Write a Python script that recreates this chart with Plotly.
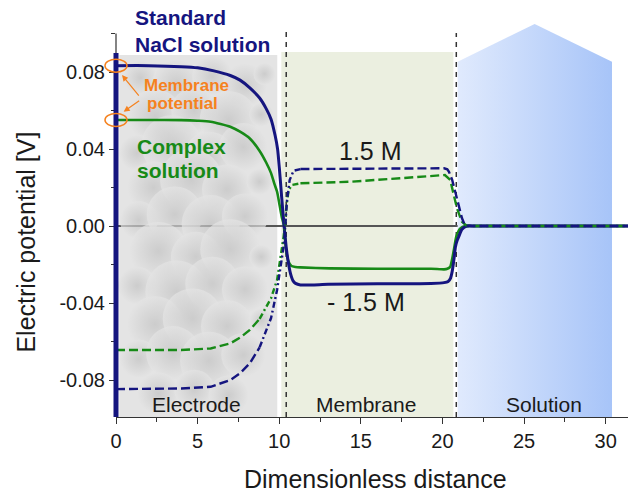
import plotly.graph_objects as go

# ---------------- data ----------------
nacl_x = [0, 2, 4, 5, 6, 7, 7.6, 8.2, 8.8, 9.2, 9.5, 9.75, 9.9, 10.0, 10.15, 10.3,
          10.45, 10.6, 10.7, 10.85, 11.0, 11.3, 13, 16, 19.3, 20.1, 20.35, 20.5,
          20.6, 20.7, 20.8, 20.9, 21.0, 21.2, 21.5, 22, 31.4]
nacl_y = [0.0833, 0.0833, 0.0828, 0.0822, 0.0806, 0.0782, 0.0758, 0.0718, 0.0665,
          0.0610, 0.0555, 0.0470, 0.0400, 0.0310, 0.0150, 0.0,
          -0.0125, -0.0210, -0.0250, -0.0285, -0.0298, -0.0306, -0.0303, -0.0300,
          -0.0298, -0.0294, -0.0288, -0.0270, -0.0235, -0.0177, -0.0107, -0.0075,
          -0.0055, -0.0017, 0.0, 0.0, 0.0]

complex_x = [0, 2, 4, 5, 5.8, 7.0, 7.6, 8.2, 8.8, 9.2, 9.5, 9.7, 9.87, 10.0, 10.15,
             10.3, 10.4, 10.55, 10.75, 11.0, 11.3, 13.1, 16, 19.3, 20.1, 20.3, 20.48,
             20.6, 20.7, 20.85, 21.1, 21.4, 22, 31.4]
complex_y = [0.0551, 0.0551, 0.0550, 0.0547, 0.0542, 0.0516, 0.0490, 0.0455, 0.0390,
             0.0330, 0.0275, 0.0220, 0.0178, 0.0120, 0.0050,
             0.0, -0.0110, -0.0180, -0.0208, -0.0213, -0.0215, -0.0220, -0.0222,
             -0.0222, -0.0225, -0.0222, -0.0211, -0.0170, -0.0125, -0.0055, -0.0012,
             0.0, 0.0, 0.0]

nacl15_x = [0, 2, 4, 5.8, 7.0, 7.6, 8.2, 8.8, 9.5, 9.87, 10.07, 10.27, 10.37, 10.48,
            10.64, 10.88, 11.3, 13, 16, 19.3, 20.1, 20.3, 20.4, 20.6, 20.8, 21.0,
            21.2, 21.4, 22, 31.4]
nacl15_y = [-0.0847, -0.0847, -0.0844, -0.0835, -0.0800, -0.0765, -0.0713, -0.0630,
            -0.0478, -0.0332, -0.0229, -0.0107, 0.0, 0.0135,
            0.0239, 0.0287, 0.0296, 0.0297, 0.0298, 0.0300, 0.0300, 0.0295, 0.0282,
            0.0239, 0.0170, 0.0100, 0.0040, 0.0, 0.0, 0.0]

complex15_x = [0, 2, 4, 5.8, 7.0, 7.6, 8.2, 8.8, 9.5, 9.87, 10.07, 10.27, 10.35,
               10.45, 10.58, 10.78, 11.3, 14.35, 17.4, 19.4, 20.15, 20.48, 20.69,
               20.89, 21.2, 21.5, 22, 31.4]
complex15_y = [-0.0644, -0.0644, -0.0644, -0.0636, -0.0610, -0.0580, -0.0540, -0.0482,
               -0.0375, -0.0280, -0.0177, -0.0055, 0.0,
               0.0110, 0.0187, 0.0213, 0.0222, 0.0230, 0.0248, 0.0261, 0.0265, 0.0239,
               0.0170, 0.0092, 0.0022, 0.0, 0.0, 0.0]

x_tick_vals = [0, 5, 10, 15, 20, 25, 30]
y_tick_vals = [-0.08, -0.04, 0.0, 0.04, 0.08]
y_tick_text = ["-0.08", "-0.04", "0.00", "0.04", "0.08"]

# region boundaries (dimensionless distance)
electrode_region = [0.2, 9.88]
membrane_region = [10.13, 20.67]
solution_region = [20.93, 25.65, 30.39]
interface_lines = [10.43, 20.85]

X_RANGE = [0, 31.37]
Y_RANGE = [-0.0992, 0.1065]

NAVY = "#15157f"
GREEN = "#178a17"
ORANGE = "#f5821f"
FONT = "Liberation Sans, Arial, sans-serif"
ELECTRODE_BG = "#e4e4e4"


def to_paper_x(v):
    return (v - X_RANGE[0]) / (X_RANGE[1] - X_RANGE[0])


def to_paper_y(v):
    return (v - Y_RANGE[0]) / (Y_RANGE[1] - Y_RANGE[0])


def segment(xs, ys, lo, hi):
    pts = [(a, b) for a, b in zip(xs, ys) if lo <= a <= hi]
    return [p[0] for p in pts], [p[1] for p in pts]


fig = go.Figure()

# soft cloudy texture of the electrode (purely decorative)
cloud = [
    (1.5, 0.077, 34), (3.7, 0.074, 48), (5.9, 0.078, 40), (7.9, 0.073, 44), (9.1, 0.079, 22),
    (2.4, 0.057, 54), (4.8, 0.060, 46), (6.9, 0.055, 58), (8.9, 0.058, 24),
    (1.3, 0.038, 36), (3.4, 0.042, 60), (5.7, 0.036, 50), (7.8, 0.041, 48),
    (2.3, 0.020, 52), (4.6, 0.024, 62), (6.8, 0.019, 50), (8.8, 0.023, 26),
    (1.4, 0.003, 38), (3.6, 0.006, 56), (5.8, 0.001, 58), (7.9, 0.005, 46),
    (2.6, -0.013, 58), (4.9, -0.016, 50), (7.0, -0.012, 60), (8.9, -0.016, 24),
    (1.3, -0.031, 38), (3.7, -0.034, 62), (5.9, -0.030, 54), (7.9, -0.033, 46),
    (2.4, -0.051, 56), (4.7, -0.048, 60), (6.8, -0.052, 52), (8.9, -0.049, 24),
    (1.4, -0.069, 38), (3.5, -0.066, 54), (5.7, -0.070, 58), (7.8, -0.067, 44),
    (2.6, -0.087, 42), (4.8, -0.085, 40), (6.9, -0.088, 40),
]
fig.add_trace(go.Scatter(
    x=[c[0] for c in cloud], y=[c[1] for c in cloud], mode="markers",
    hoverinfo="skip", showlegend=False,
    marker=dict(size=[c[2] for c in cloud], color=ELECTRODE_BG,
                line=dict(width=0),
                gradient=dict(type="radial", color="#c2c2c2"))))

# solution region (gradient pentagon)
sx0, sxm, sx1 = solution_region
fig.add_trace(go.Scatter(
    x=[sx0, sx0, sxm, sx1, sx1, sx0],
    y=[Y_RANGE[0], 0.0853, 0.105, 0.0853, Y_RANGE[0], Y_RANGE[0]],
    fill="toself", mode="lines", line=dict(width=0),
    fillgradient=dict(type="horizontal",
                      colorscale=[[0, "#e0eafd"], [1, "#a7c4f8"]]),
    hoverinfo="skip", showlegend=False))

# solid curves
fig.add_trace(go.Scatter(x=complex_x, y=complex_y, mode="lines",
                         line=dict(color=GREEN, width=2.6, shape="spline", smoothing=0.6),
                         hoverinfo="skip", showlegend=False))
fig.add_trace(go.Scatter(x=nacl_x, y=nacl_y, mode="lines",
                         line=dict(color=NAVY, width=3, shape="spline", smoothing=0.6),
                         hoverinfo="skip", showlegend=False))

# dashed curves (dash in flat parts, dash-dot in steep part)
for xs, ys, col in [(complex15_x, complex15_y, GREEN), (nacl15_x, nacl15_y, NAVY)]:
    for lo, hi, dash in [(0, 8.8, "9px,4px"), (8.8, 11.3, "6px,3px,2px,3px"),
                         (11.3, 40, "9px,4px")]:
        sx, sy = segment(xs, ys, lo, hi)
        fig.add_trace(go.Scatter(x=sx, y=sy, mode="lines",
                                 line=dict(color=col, width=2.4, dash=dash),
                                 hoverinfo="skip", showlegend=False))

shapes = [
    # electrode region
    dict(type="rect", xref="x", yref="y", x0=electrode_region[0], x1=electrode_region[1],
         y0=Y_RANGE[0], y1=0.0888, fillcolor=ELECTRODE_BG, line=dict(width=0), layer="below"),
    # membrane region
    dict(type="rect", xref="x", yref="y", x0=membrane_region[0], x1=membrane_region[1],
         y0=Y_RANGE[0], y1=0.0904, fillcolor="#ebefe0", line=dict(width=0), layer="below"),
    # interface dashed lines
    dict(type="line", xref="x", yref="y", x0=interface_lines[0], x1=interface_lines[0],
         y0=Y_RANGE[0], y1=0.1034, line=dict(color="#333333", width=1.5, dash="5px,5px"),
         layer="below"),
    dict(type="line", xref="x", yref="y", x0=interface_lines[1], x1=interface_lines[1],
         y0=Y_RANGE[0], y1=0.1003, line=dict(color="#333333", width=1.5, dash="5px,5px"),
         layer="below"),
    # y axis line
    dict(type="line", xref="paper", yref="paper", x0=0, x1=0, y0=0, y1=to_paper_y(0.1),
         line=dict(color="#333333", width=1.2), layer="above"),
    # electrode boundary (thick navy)
    dict(type="line", xref="paper", yref="paper", x0=0, x1=0, y0=0, y1=to_paper_y(0.0899),
         line=dict(color=NAVY, width=5), layer="above"),
]
# orange ellipses highlighting the membrane potential
for v in [nacl_y[0], complex_y[0]]:
    cy = to_paper_y(v)
    shapes.append(dict(type="circle", xref="paper", yref="paper",
                       x0=-0.0215, x1=0.0215, y0=cy - 0.0164, y1=cy + 0.0164,
                       line=dict(color=ORANGE, width=1.5), layer="above"))

annotations = [
    dict(x=to_paper_x(1.04), y=to_paper_y(0.1083), xref="paper", yref="paper",
         text="<b>Standard</b>", font=dict(size=21, color=NAVY)),
    dict(x=1.04, y=0.0945, text="<b>NaCl solution</b>", font=dict(size=21, color=NAVY)),
    dict(x=1.57, y=0.0732, text="<b>Membrane</b>", font=dict(size=17, color=ORANGE)),
    dict(x=1.75, y=0.0634, text="<b>potential</b>", font=dict(size=17, color=ORANGE)),
    dict(x=1.18, y=0.0413, text="<b>Complex</b>", font=dict(size=21, color=GREEN)),
    dict(x=1.18, y=0.0286, text="<b>solution</b>", font=dict(size=21, color=GREEN)),
]
for a in annotations:
    a.setdefault("xref", "x")
    a.setdefault("yref", "y")
    a.update(xanchor="left", yanchor="middle", showarrow=False)
    a["font"]["family"] = FONT

centered = [
    dict(x=15.6, y=0.039, text="1.5 M", size=25),
    dict(x=15.33, y=-0.0396, text="- 1.5 M", size=25),
    dict(x=4.96, y=-0.0925, text="Electrode", size=21),
    dict(x=15.3, y=-0.0925, text="Membrane", size=21),
    dict(x=26.2, y=-0.0925, text="Solution", size=21),
]
for c in centered:
    annotations.append(dict(x=c["x"], y=c["y"], text=c["text"], xref="x", yref="y",
                            xanchor="center", yanchor="middle", showarrow=False,
                            font=dict(size=c["size"], color="#1a1a1a", family=FONT)))

# arrows
for hx, hy, ax, ay in [(0.37, 0.0784, 18, 22), (0.47, 0.0594, 17, -12)]:
    annotations.append(dict(x=hx, y=hy, xref="x", yref="y", text="", showarrow=True,
                            ax=ax, ay=ay, arrowhead=2, arrowsize=1, arrowwidth=1.2,
                            arrowcolor=ORANGE, standoff=0))

# axis titles
annotations.append(dict(x=0.506, y=-0.1566, xref="paper", yref="paper",
                        text="Dimensionless distance", showarrow=False,
                        xanchor="center", yanchor="middle",
                        font=dict(size=25, color="#1a1a1a", family=FONT)))
annotations.append(dict(x=-0.1758, y=0.443, xref="paper", yref="paper",
                        text="Electric potential [V]", showarrow=False, textangle=-90,
                        xanchor="center", yanchor="middle",
                        font=dict(size=25, color="#1a1a1a", family=FONT)))

fig.update_layout(
    width=628, height=496,
    margin=dict(l=116, r=0, t=21, b=79),
    paper_bgcolor="white", plot_bgcolor="white",
    shapes=shapes, annotations=annotations,
    showlegend=False,
    font=dict(family=FONT, color="#1a1a1a"),
    xaxis=dict(range=X_RANGE, showgrid=False, zeroline=False, showline=True,
               linecolor="#333333", linewidth=1.2, ticks="outside", ticklen=6,
               tickwidth=1.2, tickcolor="#333333", tickvals=x_tick_vals,
               tickfont=dict(size=20, color="#1a1a1a"),
               minor=dict(ticks="outside", ticklen=4, tickwidth=1, dtick=2.5,
                          tick0=0, tickcolor="#333333")),
    yaxis=dict(range=Y_RANGE, showgrid=False, zeroline=True, zerolinecolor="#555555",
               zerolinewidth=1.5, showline=False, ticks="outside", ticklen=6,
               tickwidth=1.2, tickcolor="#333333", tickvals=y_tick_vals,
               ticktext=y_tick_text, tickfont=dict(size=20, color="#1a1a1a"),
               minor=dict(ticks="outside", ticklen=4, tickwidth=1, dtick=0.02,
                          tick0=0, tickcolor="#333333")),
)

fig.write_html("out.html")
